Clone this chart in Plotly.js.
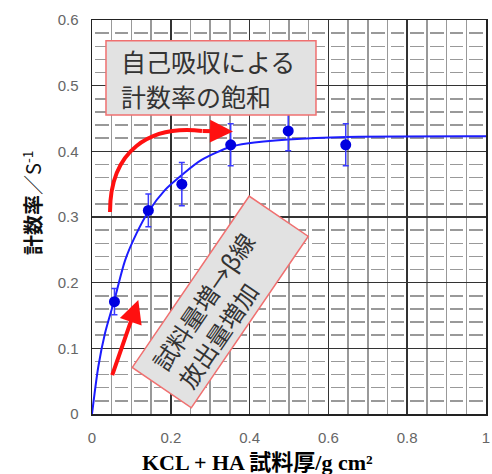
<!DOCTYPE html>
<html><head><meta charset="utf-8">
<script src="https://cdn.plot.ly/plotly-3.0.1.min.js"></script>
<style>html,body{margin:0;padding:0;background:#fff;}</style>
</head><body><div id="chart" style="width:492px;height:474px;"></div>
<script>
// measured points
const thickness = [0.057, 0.143, 0.228, 0.352, 0.498, 0.644];
const countRate = [0.171, 0.310, 0.350, 0.410, 0.431, 0.410];
const rateError = [0.020, 0.025, 0.033, 0.032, 0.030, 0.032];
// fitted saturation curve
const fitThickness = [0, 0.016, 0.033, 0.057, 0.084, 0.113, 0.143, 0.185, 0.228, 0.278, 0.352, 0.393, 0.498, 0.646, 1.0];
const fitRate = [0, 0.072, 0.123, 0.174, 0.234, 0.275, 0.308, 0.341, 0.364, 0.387, 0.407, 0.412, 0.418, 0.422, 0.423];
// ticks
const xTicks = [0, 0.2, 0.4, 0.6, 0.8, 1];
const xTickLabels = ['0', '0.2', '0.4', '0.6', '0.8', '1'];
const yTicks = [0, 0.1, 0.2, 0.3, 0.4, 0.5, 0.6];
const yTickLabels = ['0', '0.1', '0.2', '0.3', '0.4', '0.5', '0.6'];
// texts
const xTitle = '<b>KCL + HA 試料厚/g cm²</b>';
const yTitle = '<b>計数率</b>／S<sup>-1</sup>';
const noteTop = ['自己吸収による', '計数率の飽和'];
const noteRotated = '試料量増→β線<br>放出量増加';

const jp = 'Noto Sans CJK JP';
const red = '#ff1010';

const traces = [
  {x: fitThickness, y: fitRate, type: 'scatter', mode: 'lines',
   line: {color: '#1c1cff', width: 2, shape: 'spline', smoothing: 0.8},
   hoverinfo: 'skip', showlegend: false},
  {x: thickness, y: countRate, type: 'scatter', mode: 'markers',
   marker: {color: '#0000e0', size: 11},
   error_y: {type: 'data', array: rateError, visible: true, color: '#3a3aff', thickness: 1.5, width: 3},
   showlegend: false}
];

const tickFont = {family: 'Liberation Sans, Arial, sans-serif', size: 15, color: '#666'};

const layout = {
  width: 492, height: 474,
  margin: {l: 92, r: 6, t: 20, b: 60},
  paper_bgcolor: '#fff', plot_bgcolor: '#fff',
  showlegend: false,
  xaxis: {
    range: [0, 1], tickmode: 'array', tickvals: xTicks, ticktext: xTickLabels,
    showgrid: true, gridcolor: '#333', gridwidth: 1.5,
    minor: {tickmode: 'linear', tick0: 0, dtick: 0.05, showgrid: true, gridcolor: '#999', gridwidth: 1.5, ticks: ''},
    zeroline: false, showline: true, linecolor: '#222', linewidth: 1.5, mirror: true,
    ticks: '', tickfont: tickFont, ticklabelstandoff: 9, fixedrange: true
  },
  yaxis: {
    range: [0, 0.6], tickmode: 'array', tickvals: yTicks, ticktext: yTickLabels,
    showgrid: true, gridcolor: '#333', gridwidth: 1.5,
    minor: {tickmode: 'linear', tick0: 0, dtick: 0.02, showgrid: true, gridcolor: '#999', gridwidth: 1.5, griddash: '0px,3px,13.7px,3px', ticks: ''},
    zeroline: false, showline: true, linecolor: '#222', linewidth: 1.5, mirror: true,
    ticks: '', tickfont: tickFont, ticklabelstandoff: 9, fixedrange: true
  },
  shapes: [
    {type: 'rect', xref: 'x', yref: 'y', x0: 0.0355, x1: 0.5685, y0: 0.4553, y1: 0.5684,
     fillcolor: '#e2e2e2', line: {color: '#f07070', width: 1.5}, layer: 'above'},
    {type: 'path', xref: 'x', yref: 'y',
     path: 'M 0.0457,0.3076 C 0.0457,0.402 0.1472,0.4401 0.2792,0.431',
     line: {color: red, width: 4}, layer: 'above'}
  ],
  annotations: [
    {xref: 'x', yref: 'y', x: 0.068, y: 0.5375, xanchor: 'left', yanchor: 'middle', showarrow: false,
     text: noteTop[0], font: {family: jp, size: 25, color: '#333'}},
    {xref: 'x', yref: 'y', x: 0.068, y: 0.485, xanchor: 'left', yanchor: 'middle', showarrow: false,
     text: noteTop[1], font: {family: jp, size: 25, color: '#333'}},
    // rotated box
    {xref: 'x', yref: 'y', x: 0.3269, y: 0.1706, xanchor: 'center', yanchor: 'middle', showarrow: false,
     text: ' ', width: 206, height: 70, borderpad: 0, textangle: -55.7,
     bgcolor: '#e2e2e2', bordercolor: '#f07070', borderwidth: 1.5, font: {family: jp, size: 24}},
    {xref: 'x', yref: 'y', x: 0.3134, y: 0.1585, xanchor: 'center', yanchor: 'middle', showarrow: false,
     text: noteRotated, align: 'left', textangle: -55.7,
     font: {family: jp, size: 24, color: '#333'}},
    // curved arrow head
    {xref: 'x', yref: 'y', axref: 'x', ayref: 'y', x: 0.3579, y: 0.4302, ax: 0.2768, ay: 0.4310,
     text: '', showarrow: true, arrowhead: 2, arrowwidth: 4, arrowsize: 1.15, arrowcolor: red},
    // straight arrow
    {xref: 'x', yref: 'y', axref: 'x', ayref: 'y', x: 0.1175, y: 0.1736, ax: 0.05, ay: 0.0568,
     text: '', showarrow: true, arrowhead: 2, arrowwidth: 4, arrowsize: 1.15, arrowcolor: red},
    // axis titles
    {xref: 'paper', yref: 'paper', x: 0.4213, y: -0.1231, xanchor: 'center', yanchor: 'middle', showarrow: false,
     text: xTitle, font: {family: 'Liberation Serif, Noto Sans CJK JP, serif', size: 22, color: '#000'}},
    {xref: 'paper', yref: 'paper', x: -0.1523, y: 0.538, xanchor: 'center', yanchor: 'middle', showarrow: false,
     text: yTitle, textangle: -90, font: {family: jp, size: 20, color: '#111'}}
  ]
};

Plotly.newPlot('chart', traces, layout, {displayModeBar: false, staticPlot: true});
</script>
</body></html>
